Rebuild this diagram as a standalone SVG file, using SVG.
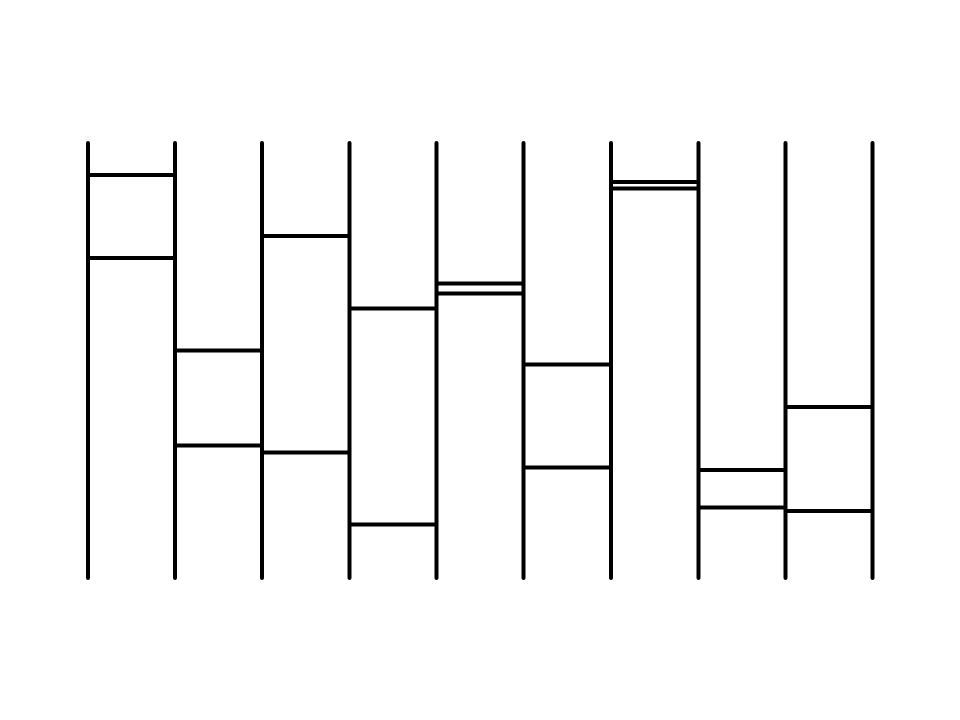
<svg xmlns="http://www.w3.org/2000/svg" width="960" height="720" viewBox="0 0 960 720">
<style>line{stroke:#000;stroke-width:4}.v{stroke-linecap:round}</style>
<rect width="960" height="720" fill="#fff"/>
<g id="verticals">
<line class="v" x1="88" y1="143" x2="88" y2="578"/>
<line class="v" x1="175" y1="143" x2="175" y2="578"/>
<line class="v" x1="262" y1="143" x2="262" y2="578"/>
<line class="v" x1="349.5" y1="143" x2="349.5" y2="578"/>
<line class="v" x1="436.5" y1="143" x2="436.5" y2="578"/>
<line class="v" x1="523.5" y1="143" x2="523.5" y2="578"/>
<line class="v" x1="611" y1="143" x2="611" y2="578"/>
<line class="v" x1="698.5" y1="143" x2="698.5" y2="578"/>
<line class="v" x1="785.5" y1="143" x2="785.5" y2="578"/>
<line class="v" x1="872.5" y1="143" x2="872.5" y2="578"/>
</g>
<g id="rungs">
<line x1="88" y1="175" x2="175" y2="175"/>
<line x1="88" y1="258" x2="175" y2="258"/>
<line x1="175" y1="350.5" x2="262" y2="350.5"/>
<line x1="175" y1="445.5" x2="262" y2="445.5"/>
<line x1="262" y1="236" x2="349.5" y2="236"/>
<line x1="262" y1="452.5" x2="349.5" y2="452.5"/>
<line x1="349.5" y1="308.5" x2="436.5" y2="308.5"/>
<line x1="349.5" y1="524.5" x2="436.5" y2="524.5"/>
<line x1="436.5" y1="283.5" x2="523.5" y2="283.5"/>
<line x1="436.5" y1="293.5" x2="523.5" y2="293.5"/>
<line x1="523.5" y1="364.5" x2="611" y2="364.5"/>
<line x1="523.5" y1="467.5" x2="611" y2="467.5"/>
<line x1="611" y1="182" x2="698.5" y2="182"/>
<line x1="611" y1="188.5" x2="698.5" y2="188.5"/>
<line x1="698.5" y1="470" x2="785.5" y2="470"/>
<line x1="698.5" y1="507.5" x2="785.5" y2="507.5"/>
<line x1="785.5" y1="407" x2="872.5" y2="407"/>
<line x1="785.5" y1="511" x2="872.5" y2="511"/>
</g>
</svg>
